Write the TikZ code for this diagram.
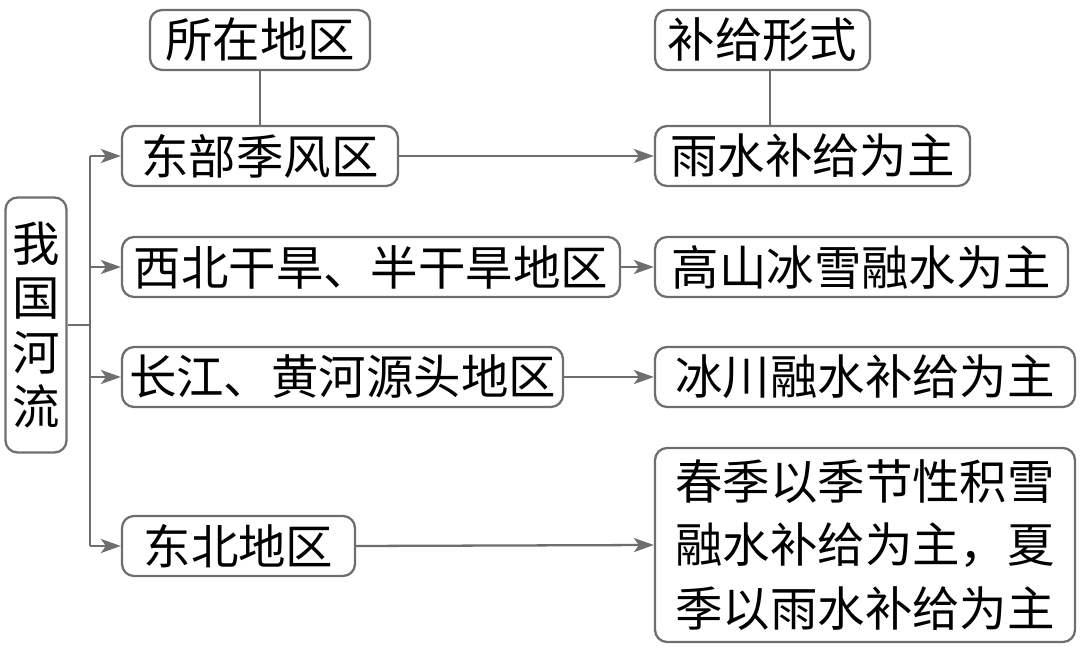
\documentclass[tikz,border=0pt]{standalone}
\usepackage{fontspec}
\setmainfont{Noto Sans CJK SC}
\usetikzlibrary{arrows.meta}
\definecolor{linegray}{HTML}{6E6E6E}

\begin{document}
\begin{tikzpicture}[x=0.02cm,y=-0.02cm,
  box/.style={draw=linegray,line width=1.3pt,rounded corners=0.24cm,inner sep=0pt,align=center,font=\fontsize{27}{36}\selectfont},
  link/.style={draw=linegray,line width=1.3pt},
  arr/.style={link,-{Stealth[length=0.4cm,width=0.28cm,inset=0.1cm]}}]

\useasboundingbox (0,0) rectangle (1080,655);

% left root
\node[box,minimum width=1.22cm,minimum height=5.1cm,font=\fontsize{27}{31}\selectfont] (river) at (36,325) {我\\国\\河\\流};

% headings
\node[box,minimum width=4.4cm,minimum height=1.2cm] (region) at (260,40) {所在地区};
\node[box,minimum width=4.3cm,minimum height=1.2cm] (supply) at (762.5,40) {补给形式};

% regions
\node[box,minimum width=5.52cm,minimum height=1.2cm] (east) at (260,156) {东部季风区};
\node[box,minimum width=9.96cm,minimum height=1.2cm] (west) at (371,267) {西北干旱、半干旱地区};
\node[box,minimum width=8.82cm,minimum height=1.2cm] (yangtze) at (342.5,377) {长江、黄河源头地区};
\node[box,minimum width=4.66cm,minimum height=1.2cm] (northeast) at (238.5,546) {东北地区};

% supply forms
\node[box,minimum width=6.3cm,minimum height=1.2cm] (rain) at (812.5,156) {雨水补给为主};
\node[box,minimum width=8.26cm,minimum height=1.2cm] (snow) at (861.5,267) {高山冰雪融水为主};
\node[box,minimum width=8.4cm,minimum height=1.2cm] (glacier) at (865,377) {冰川融水补给为主};
\node[box,minimum width=8.4cm,minimum height=3.88cm] (mixed) at (865,545) {春季以季节性积雪\\融水补给为主，夏\\季以雨水补给为主};

% tree from root
\coordinate (fork) at (90,325);
\draw[link] (river.east) -- (fork);
\draw[link] (fork |- east.west) -- (fork |- northeast.west);
\draw[arr] (fork |- east.west) -- (east.west);
\draw[arr] (fork |- west.west) -- (west.west);
\draw[arr] (fork |- yangtze.west) -- (yangtze.west);
\draw[arr] (fork |- northeast.west) -- (northeast.west);

% heading links
\draw[link] (region.south) -- (east.north);
\draw[link] ([xshift=0.15cm]supply.south) -- ([xshift=0.15cm]supply.south |- rain.north);

% region -> supply
\draw[arr] (east.east) -- (rain.west);
\draw[arr] (west.east) -- (snow.west);
\draw[arr] (yangtze.east) -- (glacier.west);
\draw[arr] (northeast.east) -- (mixed.west);

\end{tikzpicture}
\end{document}
